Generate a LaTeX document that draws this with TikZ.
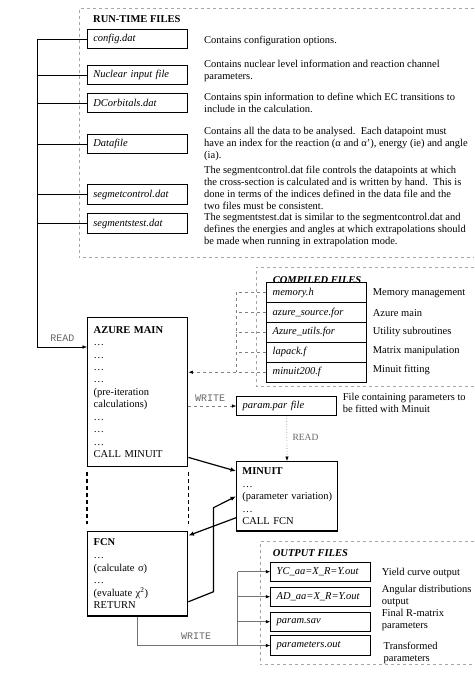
\documentclass[tikz,border=0pt]{standalone}
\usepackage{fontspec}
\setmainfont{Liberation Serif}
\setmonofont{Liberation Mono}
\usetikzlibrary{arrows.meta}

\begin{document}
\begin{tikzpicture}[x=1pt,y=-1pt,font=\fontsize{10.5}{12}\selectfont,
  frame/.style={draw=black!35,dashed,line width=0.6pt},
  filebox/.style={draw,line width=0.7pt,minimum height=19.5pt,text width=88pt,inner xsep=6pt,inner ysep=0pt,align=left,font=\fontsize{10.5}{12}\selectfont\itshape},
  prog/.style={draw,line width=1.4pt,text width=88pt,inner xsep=6pt,inner ysep=0pt,align=left},
  desc/.style={anchor=north west,inner sep=0pt,align=left},
  short/.style={anchor=west,inner sep=0pt},
  title/.style={inner sep=0pt,font=\fontsize{10.5}{12}\selectfont\bfseries},
  ttlbl/.style={inner sep=0pt,text=black!60,font=\fontsize{10}{12}\selectfont\ttfamily},
  arr/.style={-{Latex[length=4.5pt,width=3.5pt,color=black]}},
  mainarr/.style={line width=1.2pt,-{Latex[length=5.5pt,width=4.5pt]}},
  cdash/.style={draw=black!50,dashed,line width=0.6pt},
  olink/.style={draw=black!55,line width=0.6pt}]
 \useasboundingbox (0,0) rectangle (474,685);
 % run-time files
 \draw[frame] (474,8.3) -| (79.3,257.7) -- (474,257.7);
 \node (rt title) at (93,19) [title,anchor=west] {RUN-TIME FILES};
 \node (rt 1) at (137.3,39) [filebox] {config.dat};
 \node (rt 2) at (137.3,75) [filebox] {Nuclear input file};
 \node (rt 3) at (137.3,103) [filebox] {DCorbitals.dat};
 \node (rt 4) at (137.3,144) [filebox] {Datafile};
 \node (rt 5) at (137.3,194.5) [filebox] {segmetcontrol.dat};
 \node (rt 6) at (137.3,223.5) [filebox] {segmentstest.dat};
 \node (rt d1) at (204,36.4) [desc] {Contains configuration options.};
 \node (rt d2) at (204,60.4) [desc] {Contains nuclear level information and reaction channel\\parameters.};
 \node (rt d3) at (204,93.4) [desc] {Contains spin information to define which EC transitions to\\include in the calculation.};
 \node (rt d4) at (204,127.4) [desc] {Contains all the data to be analysed.\ \ Each datapoint must\\have an index for the reaction (α and α’), energy (ie) and angle\\(ia).};
 \node (rt d5) at (204,166.4) [desc] {The segmentcontrol.dat file controls the datapoints at which\\the cross-section is calculated and is written by hand.\ \ This is\\done in terms of the indices defined in the data file and the\\two files must be consistent.};
 \node (rt d6) at (204,213.4) [desc] {The segmentstest.dat is similar to the segmentcontrol.dat and\\defines the energies and angles at which extrapolations should\\be made when running in extrapolation mode.};

 % program blocks
 \node (azure) at (137.7,392) [prog,minimum height=149.4pt,font=\fontsize{10.5}{12.45}\selectfont] {\textbf{AZURE MAIN}\\…\\…\\…\\…\\(pre-iteration\\calculations)\\…\\…\\…\\CALL MINUIT};
 \node (fcn) at (137.7,573.9) [prog,minimum height=84.3pt,font=\fontsize{10.5}{12.6}\selectfont] {\textbf{FCN}\\…\\(calculate σ)\\…\\(evaluate χ\textsuperscript{2})\\RETURN};
 \node (minuit) at (287,496.4) [prog,text width=94pt,inner xsep=3.3pt,minimum height=69.3pt,font=\fontsize{10.5}{12.5}\selectfont] {\hspace*{2.4pt}\textbf{MINUIT}\\\hspace*{2.4pt}…\\\hspace*{2.4pt}(parameter variation)\\\hspace*{2.4pt}…\\\hspace*{2.4pt}CALL FCN};

 % compiled files
 \draw[frame] (474,267.3) -| (256,386.7) -- (474,386.7);
 \node (cf 1) at (316.7,292.6) [filebox,minimum height=19.9pt] {memory.h};
 \node (cf 2) at (316.7,312.5) [filebox,minimum height=19.9pt] {azure\_source.for};
 \node (cf 3) at (316.7,332.4) [filebox,minimum height=19.9pt] {Azure\_utils.for};
 \node (cf 4) at (316.7,352.3) [filebox,minimum height=19.9pt] {lapack.f};
 \node (cf 5) at (316.7,372.2) [filebox,minimum height=19.9pt] {minuit200.f};
 \node (cf title) at (272.7,283.5) [title,anchor=base west,font=\fontsize{10.5}{12}\selectfont\bfseries\itshape] {COMPILED FILES};
 \node (cf d1) at (372.7,293.3) [short] {Memory management};
 \node (cf d2) at (372.7,312.7) [short] {Azure main};
 \node (cf d3) at (372.7,332) [short] {Utility subroutines};
 \node (cf d4) at (372.7,351) [short] {Matrix manipulation};
 \node (cf d5) at (372.7,370) [short] {Minuit fitting};

 % parameter file
 \node (ppar) at (286.7,406) [filebox,minimum height=18.8pt] {param.par file};
 \node (ppar d) at (342.7,392.8) [desc] {File containing parameters to\\be fitted with Minuit};

 % output files
 \draw[frame] (474,541.7) -| (260,664.3) -- (474,664.3);
 \node (out title) at (272.7,552.7) [title,anchor=west,font=\fontsize{10.5}{12}\selectfont\bfseries\itshape] {OUTPUT FILES};
 \node (out 1) at (320.7,571.7) [filebox] {YC\_aa=X\_R=Y.out};
 \node (out 2) at (320.7,596.7) [filebox] {AD\_aa=X\_R=Y.out};
 \node (out 3) at (320.7,621.7) [filebox] {param.sav};
 \node (out 4) at (320.7,645.5) [filebox] {parameters.out};
 \node (out d1) at (381.7,572.7) [short] {Yield curve output};
 \node (out d2) at (381.7,584.6) [desc] {Angular distributions\\output};
 \node (out d3) at (381.7,608.6) [desc] {Final R-matrix\\parameters};
 \node (out d4) at (383.5,642.2) [desc] {Transformed\\parameters};

 % read bus
 \coordinate (rbus) at (37.3,347);
 \draw[arr] (rt 1.west) -| (rbus) -- (azure.west |- rbus);
 \draw (rt 2.west) -- (rt 2.west -| rbus);
 \draw (rt 3.west) -- (rt 3.west -| rbus);
 \draw (rt 4.west) -- (rt 4.west -| rbus);
 \draw (rt 5.west) -- (rt 5.west -| rbus);
 \draw (rt 6.west) -- (rt 6.west -| rbus);
 \node (read 1) at (62.5,338) [ttlbl] {READ};

 % compiled links
 \coordinate (cbus) at (236,292.6);
 \draw[cdash] (cf 1.west) -- (cbus) -- (cbus |- cf 5.west);
 \draw[cdash] (cf 2.west) -- (cf 2.west -| cbus);
 \draw[cdash] (cf 3.west) -- (cf 3.west -| cbus);
 \draw[cdash] (cf 4.west) -- (cf 4.west -| cbus);
 \draw[cdash,arr] (cf 5.west) -- (azure.east |- cf 5.west);

 % azure, minuit and fcn
 \draw[cdash,arr] (azure.east |- ppar.west) -- (ppar.west);
 \node (write 1) at (210,398) [ttlbl] {WRITE};
 \draw[draw=black!50,dotted,line width=0.7pt,arr] (ppar.south) -- (minuit.north);
 \node (read 2) at (305.5,437) [inner sep=0pt,text=black!60,font=\fontsize{9.5}{12}\selectfont] {READ};
 \draw[mainarr] ([yshift=10pt]azure.south east) -- ([yshift=-10pt]minuit.north west);
 \draw[mainarr] ([yshift=14pt]minuit.south west) -- ([yshift=-4.5pt]fcn.north east);
 \draw[mainarr] ([yshift=15pt]fcn.south east) -- ++(25,-10) -- ++(0,-84) -- ([yshift=-35.3pt]minuit.north west);
 \draw[line width=1.2pt,dash pattern=on 4pt off 3pt] ([yshift=-5pt]azure.south west) -- ([yshift=6.7pt]fcn.north west);
 \draw[line width=1.2pt,dash pattern=on 4pt off 3pt] ([yshift=-5pt]azure.south east) -- ([yshift=6.7pt]fcn.north east);

 % write bus
 \coordinate (obus) at (237.7,571.7);
 \draw[olink,arr] (fcn.south) |- (out 4.west);
 \draw[olink,arr] (obus) -- (out 1.west);
 \draw[olink] (obus) -- (obus |- out 4.west);
 \draw[olink,arr] (out 2.west -| obus) -- (out 2.west);
 \draw[olink,arr] (out 3.west -| obus) -- (out 3.west);
 \node (write 2) at (196,636) [ttlbl] {WRITE};
\end{tikzpicture}
\end{document}
